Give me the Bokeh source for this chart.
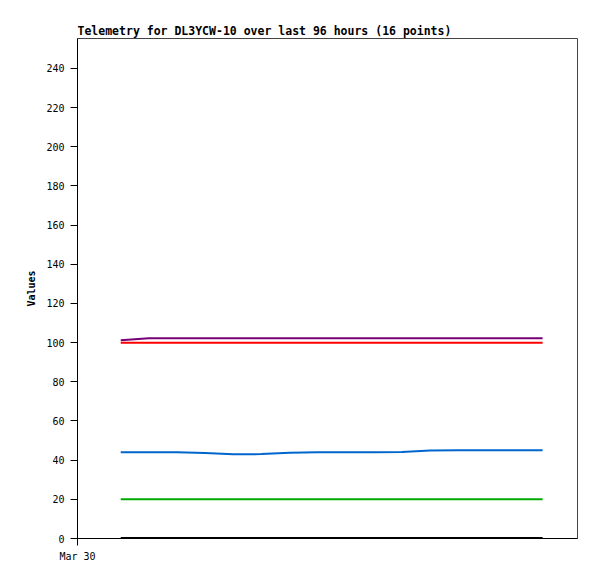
from bokeh.plotting import figure
from bokeh.models import Range1d, FixedTicker
from bokeh.embed import file_html
from bokeh.resources import INLINE

# Time in hours since Mar 30 00:00
hours = [8.3, 13.7, 19.1, 24.5, 29.9, 35.3, 40.7, 46.1, 51.5, 56.9, 62.3, 67.7, 73.1, 78.5, 83.9, 89.3]

purple_vals = [101.2, 102.3, 102.3, 102.3, 102.3, 102.3, 102.3, 102.3, 102.3, 102.3, 102.3, 102.3, 102.3, 102.3, 102.3, 102.3]
red_vals = [100.0] * 16
blue_vals = [44.0, 44.0, 44.0, 43.6, 43.0, 43.1, 43.8, 44.0, 44.0, 44.0, 44.2, 44.9, 45.0, 45.0, 45.0, 45.0]
green_vals = [20.0] * 16
black_vals = [0.2] * 16

y_ticks = [0, 20, 40, 60, 80, 100, 120, 140, 160, 180, 200, 220, 240]
x_ticks = [0]
x_tick_labels = ["Mar 30"]

FONT = "DejaVu Sans Mono"

p = figure(frame_width=500, frame_height=500,
           min_border_left=77, min_border_right=20, min_border_top=38, min_border_bottom=41,
           x_range=Range1d(0, 96), y_range=Range1d(0, 255.3),
           output_backend="svg", toolbar_location=None,
           title="Telemetry for DL3YCW-10 over last 96 hours (16 points)")

p.title.text_font = FONT
p.title.text_font_size = "11.5px"
p.title.text_font_style = "bold"
p.title.text_color = "black"
p.title.align = "left"
p.title.offset = 0
p.title.standoff = 2

p.background_fill_color = "white"
p.border_fill_color = "white"
p.outline_line_color = "#444444"
p.outline_line_width = 1
p.xgrid.visible = False
p.ygrid.visible = False

for series, col in [(black_vals, "#000000"), (green_vals, "#00aa00"), (blue_vals, "#0066cc"),
                    (red_vals, "#ff0000"), (purple_vals, "#770077")]:
    p.line(hours, series, line_color=col, line_width=2)

ya = p.yaxis[0]
ya.ticker = FixedTicker(ticks=y_ticks)
ya.axis_label = "Values"
ya.axis_label_text_font = FONT
ya.axis_label_text_font_size = "10px"
ya.axis_label_text_font_style = "bold"
ya.axis_label_text_color = "black"
ya.axis_label_standoff = 6
ya.major_label_text_font = FONT
ya.major_label_text_font_size = "10px"
ya.major_label_text_color = "black"
ya.major_tick_out = 7
ya.major_tick_in = 0
ya.minor_tick_out = 0
ya.minor_tick_in = 0
ya.major_label_standoff = 6
ya.axis_line_color = "black"
ya.major_tick_line_color = "black"

xa = p.xaxis[0]
xa.ticker = FixedTicker(ticks=x_ticks)
xa.major_label_overrides = {t: l for t, l in zip(x_ticks, x_tick_labels)}
xa.major_label_text_font = FONT
xa.major_label_text_font_size = "10px"
xa.major_label_text_color = "black"
xa.major_tick_out = 7
xa.major_tick_in = 0
xa.minor_tick_out = 0
xa.minor_tick_in = 0
xa.major_label_standoff = 5
xa.axis_line_color = "black"
xa.major_tick_line_color = "black"

open("out.html", "w").write(file_html(p, INLINE))
